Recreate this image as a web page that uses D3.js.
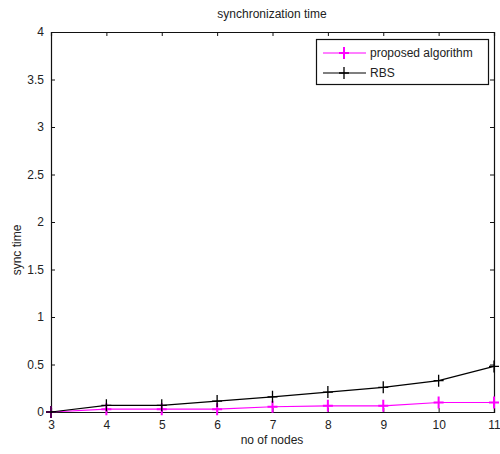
<!DOCTYPE html>
<html>
<head>
<meta charset="utf-8">
<script src="https://cdn.jsdelivr.net/npm/d3@7"></script>
<style>
  body { margin: 0; background: #fff; }
  text { font-family: "Liberation Sans", Arial, sans-serif; fill: #222; }
</style>
</head>
<body>
<div class="chart"></div>
<script>
// values
const nodes = [3, 4, 5, 6, 7, 8, 9, 10, 11];
const proposed = [0, 0.03, 0.03, 0.03, 0.055, 0.065, 0.065, 0.1, 0.1];
const rbs = [0, 0.07, 0.07, 0.115, 0.16, 0.21, 0.26, 0.33, 0.48];
const yTicks = [0, 0.5, 1, 1.5, 2, 2.5, 3, 3.5, 4];
const seriesNames = ["proposed algorithm", "RBS"];
const seriesColors = ["#ff00ff", "#000000"];

const W = 500, H = 454;
const margin = {top: 32, right: 6, bottom: 42, left: 51};
const width = W - margin.left - margin.right,
      height = H - margin.top - margin.bottom;

const x = d3.scaleLinear().domain([3, 11]).range([0, width]);
const y = d3.scaleLinear().domain([0, 4]).range([height, 0]);

const svg = d3.select(".chart").append("svg")
  .attr("width", W).attr("height", H);
const g = svg.append("g")
  .attr("transform", "translate(" + margin.left + "," + margin.top + ")");

// axes, ticks pointing inwards on all four sides
const tickLen = 4;
g.append("g").attr("transform", "translate(0," + height + ")")
  .call(d3.axisBottom(x).tickValues(nodes).tickSize(-tickLen).tickPadding(8).tickFormat(d3.format("d")));
g.append("g")
  .call(d3.axisTop(x).tickValues(nodes).tickSize(-tickLen).tickFormat(""));
g.append("g")
  .call(d3.axisLeft(y).tickValues(yTicks).tickSize(-tickLen).tickPadding(7).tickFormat(d => String(d)));
g.append("g").attr("transform", "translate(" + width + ",0)")
  .call(d3.axisRight(y).tickValues(yTicks).tickSize(-tickLen).tickFormat(""));

g.selectAll(".domain").attr("stroke", "#111").attr("stroke-width", 1.2);
g.selectAll(".tick line").attr("stroke", "#111");
g.selectAll(".tick text").style("font-size", "12px").attr("fill", "#222");

// series
const series = [proposed, rbs];
const line = d3.line().x((d, i) => x(nodes[i])).y(d => y(d));
series.forEach((vals, s) => {
  g.append("path").datum(vals)
    .attr("fill", "none").attr("stroke", seriesColors[s]).attr("stroke-width", 1.2)
    .attr("d", line);
  g.selectAll(".m" + s).data(vals).enter().append("path")
    .attr("transform", (d, i) => "translate(" + x(nodes[i]) + "," + y(d) + ")")
    .attr("d", "M-5,0H5M0,-6V6")
    .attr("stroke", seriesColors[s]).attr("stroke-width", s === 0 ? 2 : 1.3);
});

// titles
svg.append("text").attr("x", 272).attr("y", 18).attr("text-anchor", "middle")
  .style("font-size", "12px").text("synchronization time");
svg.append("text").attr("x", 272).attr("y", 444).attr("text-anchor", "middle")
  .style("font-size", "12px").text("no of nodes");
svg.append("text").attr("transform", "translate(21,250) rotate(-90)").attr("text-anchor", "middle")
  .style("font-size", "12px").text("sync time");

// legend
const lg = svg.append("g");
lg.append("rect").attr("x", 316.5).attr("y", 39.5).attr("width", 172).attr("height", 45)
  .attr("fill", "#fff").attr("stroke", "#111").attr("stroke-width", 1.2);
seriesNames.forEach((name, s) => {
  const ly = 53 + s * 20;
  lg.append("line").attr("x1", 323).attr("x2", 366).attr("y1", ly).attr("y2", ly)
    .attr("stroke", seriesColors[s]).attr("stroke-width", 1.2);
  lg.append("path").attr("transform", "translate(344," + ly + ")")
    .attr("d", "M-5,0H5M0,-6V6").attr("stroke", seriesColors[s]).attr("stroke-width", s === 0 ? 2 : 1.3);
  lg.append("text").attr("x", 370).attr("y", ly + 4).style("font-size", "12px").text(name);
});
</script>
</body>
</html>
